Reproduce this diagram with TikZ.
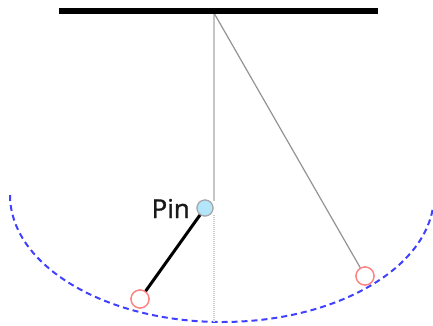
\documentclass[tikz,border=0pt]{standalone}
\usepackage{fontspec}
\setmainfont{Open Sans}
\newfontfamily\pinfont[FakeBold=1.2]{Open Sans}
\begin{document}
\begin{tikzpicture}[x=1pt,y=-1pt,
  bob/.style={circle,draw=red!50,line width=1.3pt,fill=white,minimum size=18pt,inner sep=0pt},
  pinnode/.style={circle,draw=gray!70,line width=1.1pt,fill=cyan!30,minimum size=16pt,inner sep=0pt},
  rope/.style={draw=gray!45,line width=2.4pt}]
\useasboundingbox (0,0) rectangle (433,325);
\coordinate (barL) at (59,11);
\coordinate (barR) at (378,11);
\coordinate (pivot) at (214,13);
\coordinate (bottom) at (214,323);
\node[pinnode] (pin) at (205,208) {};
\node[bob] (bobL) at (140,299) {};
\node[bob] (bobR) at (365,276) {};
% dashed swing arc
\draw[blue!75,line width=2pt,dash pattern=on 6pt off 4pt] (10,195) arc[start angle=180,end angle=354,x radius=212,y radius=-127];
% vertical rope
\draw[rope] (pivot) -- (214,201);
\draw[gray!40,line width=2.2pt,dash pattern=on 1pt off 1pt] (214,215) -- (bottom);
% slanted rope
\draw[gray!85,line width=1.2pt] (pivot) -- (bobR);
% short pendulum
\draw[black,line width=3pt] (pin) -- (bobL);
\node[pinnode] at (pin) {};
\node[bob] at (bobL) {};
\node[bob] at (bobR) {};
% bar
\draw[black,line width=6pt] (barL) -- (barR);
\node[anchor=base east,font=\pinfont\fontsize{26}{28}\selectfont,text=black!90,inner sep=0pt] (pinlabel) at (190,218) {Pin};
\end{tikzpicture}
\end{document}
